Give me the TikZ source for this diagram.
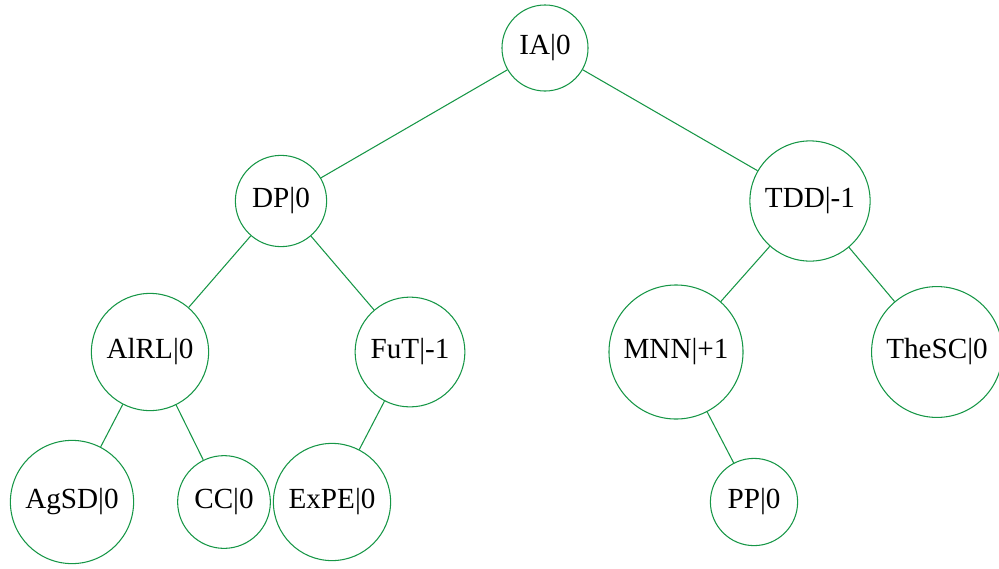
\documentclass[tikz,border=0pt]{standalone}
\usepackage{fontspec}
\setmainfont{Liberation Serif}
\usepackage{tikz}
\usetikzlibrary{positioning}

\definecolor{treegreen}{RGB}{22,150,70}

\begin{document}
\begin{tikzpicture}[x=0.02cm,y=-0.02cm,
    avl/.style={circle,draw=treegreen,line width=0.6pt,inner sep=5.9pt,
      font=\fontsize{16.6}{19}\selectfont},
    edge/.style={draw=treegreen,line width=0.6pt}]
    \useasboundingbox (0,0) rectangle (999,568);

    \node [avl] (ia) at (545, 48) {IA|0};

    \node [avl] (dp) at (281, 201) {DP|0};
    \node [avl] (tdd) at (810, 201) {TDD|-1};

    \node [avl] (alrl) at (150, 352) {AlRL|0};
    \node [avl] (fut) at (410, 352) {FuT|-1};
    \node [avl] (mnn) at (676, 352) {MNN|+1};
    \node [avl] (thesc) at (937, 352) {TheSC|0};

    \node [avl] (agsd) at (72, 502) {AgSD|0};
    \node [avl] (cc) at (224, 502) {CC|0};
    \node [avl] (expe) at (332, 502) {ExPE|0};
    \node [avl] (pp) at (754, 502) {PP|0};

    \draw [edge] (ia) -- (dp);
    \draw [edge] (ia) -- (tdd);
    \draw [edge] (dp) -- (alrl);
    \draw [edge] (dp) -- (fut);
    \draw [edge] (tdd) -- (mnn);
    \draw [edge] (tdd) -- (thesc);
    \draw [edge] (alrl) -- (agsd);
    \draw [edge] (alrl) -- (cc);
    \draw [edge] (fut) -- (expe);
    \draw [edge] (mnn) -- (pp);
  \end{tikzpicture}
\end{document}
